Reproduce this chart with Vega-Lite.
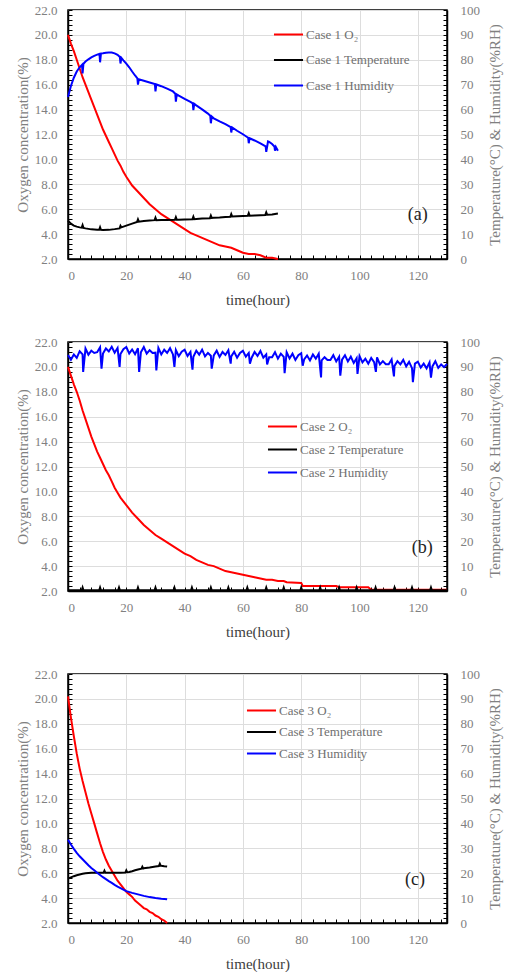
{
"$schema": "https://vega.github.io/schema/vega-lite/v6.json",
"padding": {"left": 14, "top": 3, "right": 2, "bottom": 0},
"background": "white",
"spacing": 26,
"resolve": {"scale": {"color": "independent"}, "legend": {"color": "independent"}},
"config": {
  "view": {"stroke": "black", "strokeWidth": 1.5},
  "font": "Liberation Serif",
  "axis": {"labelFont": "Liberation Serif", "labelColor": "#808080", "labelFontSize": 13, "titleFont": "Liberation Serif", "titleColor": "#808080", "titleFontWeight": "normal", "titleFontSize": 15, "domainColor": "black", "domainWidth": 1.5, "tickColor": "black", "tickWidth": 1, "tickSize": -4, "gridColor": "#dddddd", "labelOverlap": false, "tickCount": 200},
  "axisX": {"labelPadding": 14.5, "titlePadding": 10, "titleColor": "#404040"},
  "axisLeft": {"labelPadding": 15, "titlePadding": 4},
  "axisRight": {"labelPadding": 17, "titlePadding": 8},
  "legend": {"orient": "none", "symbolType": "M-1.3,0H1.3", "symbolSize": 500, "symbolStrokeWidth": 2, "labelFont": "Liberation Serif", "labelFontSize": 13, "labelColor": "#707070", "labelOffset": 5, "padding": 0},
  "text": {"font": "Liberation Serif", "fontSize": 18, "color": "#222222"}
},
"datasets": {
  "o2a": [{"t":0,"o2":20.0},{"t":1,"o2":19.3},{"t":2,"o2":18.7},{"t":3,"o2":18.0},{"t":4,"o2":17.3},{"t":5,"o2":16.6},{"t":6,"o2":16.0},{"t":7,"o2":15.4},{"t":8,"o2":14.8},{"t":9,"o2":14.2},{"t":10,"o2":13.6},{"t":11,"o2":13.0},{"t":12,"o2":12.4},{"t":13,"o2":11.9},{"t":14,"o2":11.4},{"t":15,"o2":10.9},{"t":16,"o2":10.4},{"t":17,"o2":9.9},{"t":18,"o2":9.5},{"t":19,"o2":9.0},{"t":20,"o2":8.6},{"t":22,"o2":7.9},{"t":24,"o2":7.4},{"t":26,"o2":6.9},{"t":28,"o2":6.4},{"t":30,"o2":6.0},{"t":32,"o2":5.6},{"t":34,"o2":5.3},{"t":36,"o2":5.0},{"t":38,"o2":4.7},{"t":40,"o2":4.4},{"t":42,"o2":4.1},{"t":44,"o2":3.9},{"t":46,"o2":3.7},{"t":48,"o2":3.5},{"t":50,"o2":3.3},{"t":52,"o2":3.1},{"t":54,"o2":3.0},{"t":56,"o2":2.9},{"t":58,"o2":2.7},{"t":60,"o2":2.5},{"t":62,"o2":2.4},{"t":64,"o2":2.4},{"t":66,"o2":2.3},{"t":68,"o2":2.1},{"t":70,"o2":2.1},{"t":72,"o2":2.0}],
  "tempa": [{"t":0,"v":15.4},{"t":1,"v":14.2},{"t":2,"v":13.4},{"t":3,"v":13.0},{"t":4,"v":12.7},{"t":4.7,"v":12.6},{"t":5,"v":13.6},{"t":5.3,"v":12.5},{"t":6,"v":12.3},{"t":8,"v":11.9},{"t":10,"v":11.7},{"t":10.7,"v":11.7},{"t":11,"v":12.7},{"t":11.3,"v":11.7},{"t":12,"v":11.6},{"t":14,"v":11.7},{"t":16,"v":12.0},{"t":17.7,"v":12.3},{"t":18,"v":13.3},{"t":18.3,"v":12.7},{"t":20,"v":13.4},{"t":22,"v":14.2},{"t":23.7,"v":14.9},{"t":24,"v":15.9},{"t":24.3,"v":15.0},{"t":26,"v":15.3},{"t":28,"v":15.5},{"t":29.7,"v":15.6},{"t":30,"v":16.6},{"t":30.3,"v":15.6},{"t":32,"v":15.7},{"t":34,"v":15.7},{"t":36.7,"v":15.8},{"t":37,"v":16.8},{"t":37.3,"v":15.8},{"t":38,"v":15.8},{"t":40,"v":15.9},{"t":42.7,"v":16.0},{"t":43,"v":17.0},{"t":43.3,"v":16.0},{"t":44,"v":16.1},{"t":46,"v":16.3},{"t":48.7,"v":16.4},{"t":49,"v":17.4},{"t":49.3,"v":16.5},{"t":50,"v":16.6},{"t":52,"v":16.7},{"t":54,"v":16.9},{"t":55.7,"v":17.0},{"t":56,"v":18.0},{"t":56.3,"v":17.1},{"t":58,"v":17.2},{"t":60,"v":17.3},{"t":61.7,"v":17.4},{"t":62,"v":18.4},{"t":62.3,"v":17.4},{"t":64,"v":17.5},{"t":66,"v":17.6},{"t":67.7,"v":17.7},{"t":68,"v":18.7},{"t":68.3,"v":17.8},{"t":70,"v":17.9},{"t":72,"v":18.3}],
  "huma": [{"t":0,"v":65.1},{"t":1,"v":69.5},{"t":2,"v":72.8},{"t":3,"v":75.3},{"t":4,"v":77.0},{"t":4.8,"v":78.0},{"t":5,"v":74.5},{"t":5.3,"v":78.4},{"t":6,"v":79.3},{"t":7,"v":80.2},{"t":8,"v":81.0},{"t":9,"v":81.6},{"t":10,"v":82.1},{"t":10.8,"v":82.4},{"t":11,"v":79.0},{"t":11.3,"v":82.5},{"t":12,"v":82.6},{"t":13,"v":82.8},{"t":14,"v":82.9},{"t":15,"v":82.9},{"t":16,"v":82.6},{"t":17,"v":82.0},{"t":17.8,"v":81.1},{"t":18,"v":78.5},{"t":18.3,"v":80.8},{"t":19,"v":79.8},{"t":20,"v":78.5},{"t":21,"v":77.0},{"t":22,"v":75.3},{"t":23,"v":73.7},{"t":23.8,"v":72.5},{"t":24,"v":70.0},{"t":24.3,"v":72.2},{"t":26,"v":71.6},{"t":28,"v":70.9},{"t":29.8,"v":70.3},{"t":30,"v":67.3},{"t":30.3,"v":70.1},{"t":32,"v":69.4},{"t":34,"v":68.4},{"t":36,"v":67.3},{"t":36.8,"v":66.4},{"t":37,"v":63.2},{"t":37.3,"v":66.1},{"t":38,"v":65.6},{"t":40,"v":64.3},{"t":42,"v":63.1},{"t":42.8,"v":62.5},{"t":43,"v":59.8},{"t":43.3,"v":62.3},{"t":44,"v":61.7},{"t":46,"v":60.1},{"t":48,"v":58.4},{"t":48.8,"v":57.5},{"t":49,"v":54.5},{"t":49.3,"v":57.2},{"t":50,"v":56.5},{"t":52,"v":55.3},{"t":54,"v":54.2},{"t":55.8,"v":53.0},{"t":56,"v":50.8},{"t":56.3,"v":52.8},{"t":58,"v":51.5},{"t":60,"v":50.1},{"t":61.8,"v":48.7},{"t":62,"v":46.5},{"t":62.3,"v":48.5},{"t":64,"v":47.6},{"t":66,"v":46.4},{"t":67.8,"v":45.2},{"t":68,"v":43.0},{"t":68.3,"v":45.0},{"t":68.6,"v":47.2},{"t":69,"v":47.0},{"t":70,"v":46.2},{"t":70.8,"v":45.2},{"t":71,"v":43.5},{"t":71.3,"v":45.0},{"t":72,"v":43.5}],
  "laba": [{"t":120,"o2":5.5,"label":"(a)"}],
  "o2b": [{"t":0,"o2":20.0},{"t":1,"o2":19.3},{"t":2,"o2":18.6},{"t":3,"o2":18.0},{"t":4,"o2":17.3},{"t":5,"o2":16.5},{"t":6,"o2":15.8},{"t":7,"o2":15.1},{"t":8,"o2":14.4},{"t":9,"o2":13.8},{"t":10,"o2":13.2},{"t":11,"o2":12.7},{"t":12,"o2":12.2},{"t":13,"o2":11.7},{"t":14,"o2":11.3},{"t":15,"o2":10.8},{"t":16,"o2":10.3},{"t":17,"o2":9.9},{"t":18,"o2":9.5},{"t":20,"o2":8.9},{"t":22,"o2":8.3},{"t":24,"o2":7.8},{"t":26,"o2":7.3},{"t":28,"o2":6.9},{"t":30,"o2":6.5},{"t":32,"o2":6.2},{"t":34,"o2":5.9},{"t":36,"o2":5.6},{"t":38,"o2":5.3},{"t":40,"o2":5.0},{"t":42,"o2":4.8},{"t":44,"o2":4.5},{"t":46,"o2":4.3},{"t":48,"o2":4.1},{"t":50,"o2":4.0},{"t":52,"o2":3.8},{"t":54,"o2":3.6},{"t":56,"o2":3.5},{"t":58,"o2":3.4},{"t":60,"o2":3.3},{"t":62,"o2":3.2},{"t":64,"o2":3.1},{"t":66,"o2":3.0},{"t":68,"o2":2.9},{"t":70,"o2":2.9},{"t":72,"o2":2.8},{"t":74,"o2":2.8},{"t":75,"o2":2.7},{"t":80,"o2":2.65},{"t":80.5,"o2":2.4},{"t":92,"o2":2.4},{"t":93,"o2":2.3},{"t":103,"o2":2.3},{"t":104,"o2":2.1},{"t":130,"o2":2.1}],
  "tempb": [{"t":0,"v":0.3},{"t":4.7,"v":0.3},{"t":5,"v":1.4},{"t":5.3,"v":0.3},{"t":10.7,"v":0.3},{"t":11,"v":1.4},{"t":11.3,"v":0.3},{"t":17.2,"v":0.3},{"t":17.5,"v":1.4},{"t":17.8,"v":0.3},{"t":23.7,"v":0.3},{"t":24,"v":1.4},{"t":24.3,"v":0.3},{"t":29.7,"v":0.3},{"t":30,"v":1.4},{"t":30.3,"v":0.3},{"t":36.2,"v":0.3},{"t":36.5,"v":1.4},{"t":36.8,"v":0.3},{"t":42.2,"v":0.3},{"t":42.5,"v":1.4},{"t":42.8,"v":0.3},{"t":48.7,"v":0.3},{"t":49,"v":1.4},{"t":49.3,"v":0.3},{"t":54.7,"v":0.3},{"t":55,"v":1.4},{"t":55.3,"v":0.3},{"t":61.2,"v":0.3},{"t":61.5,"v":1.4},{"t":61.8,"v":0.3},{"t":67.7,"v":0.3},{"t":68,"v":1.4},{"t":68.3,"v":0.3},{"t":73.7,"v":0.3},{"t":74,"v":1.4},{"t":74.3,"v":0.3},{"t":79.7,"v":0.3},{"t":80,"v":1.4},{"t":80.3,"v":0.3},{"t":86.2,"v":0.3},{"t":86.5,"v":1.4},{"t":86.8,"v":0.3},{"t":92.7,"v":0.3},{"t":93,"v":1.4},{"t":93.3,"v":0.3},{"t":98.7,"v":0.3},{"t":99,"v":1.4},{"t":99.3,"v":0.3},{"t":105.2,"v":0.3},{"t":105.5,"v":1.4},{"t":105.8,"v":0.3},{"t":111.7,"v":0.3},{"t":112,"v":1.4},{"t":112.3,"v":0.3},{"t":117.7,"v":0.3},{"t":118,"v":1.4},{"t":118.3,"v":0.3},{"t":124.2,"v":0.3},{"t":124.5,"v":1.4},{"t":124.8,"v":0.3},{"t":130,"v":0.3}],
  "humb": [{"t":0,"v":94.8},{"t":1,"v":92.9},{"t":2,"v":95.0},{"t":3,"v":93.6},{"t":4,"v":96.3},{"t":5,"v":95.0},{"t":5.2,"v":88.0},{"t":6,"v":97.4},{"t":7,"v":94.9},{"t":8,"v":96.5},{"t":9,"v":95.6},{"t":10,"v":95.9},{"t":11,"v":97.9},{"t":11.5,"v":89.3},{"t":12,"v":95.4},{"t":13,"v":97.4},{"t":14,"v":96.2},{"t":15,"v":98.1},{"t":16,"v":95.7},{"t":17,"v":97.6},{"t":17.7,"v":90.0},{"t":18,"v":95.2},{"t":19,"v":97.1},{"t":20,"v":98.0},{"t":21,"v":95.4},{"t":22,"v":97.0},{"t":23,"v":95.1},{"t":24,"v":97.5},{"t":24.4,"v":88.0},{"t":25,"v":95.9},{"t":26,"v":98.0},{"t":27,"v":95.3},{"t":28,"v":96.7},{"t":29,"v":95.6},{"t":30,"v":95.7},{"t":30.3,"v":88.6},{"t":31,"v":97.6},{"t":32,"v":95.0},{"t":33,"v":96.9},{"t":34,"v":95.6},{"t":35,"v":97.5},{"t":36,"v":95.0},{"t":36.5,"v":90.0},{"t":37,"v":96.8},{"t":38,"v":94.3},{"t":39,"v":96.1},{"t":40,"v":96.9},{"t":41,"v":94.4},{"t":42,"v":96.0},{"t":42.7,"v":88.9},{"t":43,"v":94.1},{"t":44,"v":96.5},{"t":45,"v":94.9},{"t":46,"v":96.9},{"t":47,"v":94.2},{"t":48,"v":95.6},{"t":49,"v":94.5},{"t":49.3,"v":89.3},{"t":50,"v":94.6},{"t":51,"v":96.5},{"t":52,"v":94.0},{"t":53,"v":96.0},{"t":54,"v":94.8},{"t":55,"v":96.7},{"t":55.8,"v":91.3},{"t":56,"v":94.2},{"t":57,"v":96.1},{"t":58,"v":93.7},{"t":59,"v":95.6},{"t":60,"v":96.5},{"t":61,"v":94.1},{"t":62,"v":95.6},{"t":62.4,"v":91.3},{"t":63,"v":93.7},{"t":64,"v":96.0},{"t":65,"v":94.4},{"t":66,"v":96.4},{"t":67,"v":93.7},{"t":68,"v":95.0},{"t":68.3,"v":91.0},{"t":69,"v":93.9},{"t":70,"v":93.9},{"t":71,"v":95.9},{"t":72,"v":93.3},{"t":73,"v":95.3},{"t":74,"v":94.0},{"t":74.3,"v":87.5},{"t":75,"v":95.9},{"t":76,"v":93.4},{"t":77,"v":95.3},{"t":78,"v":92.8},{"t":79,"v":94.7},{"t":80,"v":95.5},{"t":80.5,"v":90.5},{"t":81,"v":93.0},{"t":82,"v":94.6},{"t":83,"v":92.6},{"t":84,"v":95.0},{"t":85,"v":93.3},{"t":86,"v":95.3},{"t":86.8,"v":85.8},{"t":87,"v":92.6},{"t":88,"v":93.9},{"t":89,"v":92.8},{"t":90,"v":92.8},{"t":91,"v":94.7},{"t":92,"v":92.2},{"t":93,"v":94.1},{"t":93.4,"v":86.5},{"t":94,"v":92.9},{"t":95,"v":94.7},{"t":96,"v":92.2},{"t":97,"v":94.1},{"t":98,"v":91.6},{"t":99,"v":93.5},{"t":99.3,"v":87.2},{"t":100,"v":94.3},{"t":101,"v":91.8},{"t":102,"v":93.3},{"t":103,"v":91.3},{"t":104,"v":93.6},{"t":105,"v":91.9},{"t":105.6,"v":88.0},{"t":106,"v":93.8},{"t":107,"v":91.0},{"t":108,"v":92.3},{"t":109,"v":91.1},{"t":110,"v":91.1},{"t":111,"v":93.0},{"t":111.8,"v":86.2},{"t":112,"v":90.4},{"t":113,"v":92.3},{"t":114,"v":91.0},{"t":115,"v":92.8},{"t":116,"v":90.2},{"t":117,"v":92.0},{"t":118,"v":89.5},{"t":118.3,"v":83.9},{"t":119,"v":91.3},{"t":120,"v":92.1},{"t":121,"v":89.7},{"t":122,"v":91.3},{"t":123,"v":89.4},{"t":124,"v":91.8},{"t":124.5,"v":85.7},{"t":125,"v":90.2},{"t":126,"v":92.3},{"t":127,"v":89.6},{"t":128,"v":91.0},{"t":129,"v":89.9},{"t":130,"v":91.2}],
  "labb": [{"t":121.5,"o2":5.45,"label":"(b)"}],
  "o2c": [{"t":0,"o2":20.2},{"t":1,"o2":18.5},{"t":2,"o2":17.0},{"t":3,"o2":15.6},{"t":4,"o2":14.4},{"t":5,"o2":13.4},{"t":6,"o2":12.5},{"t":7,"o2":11.6},{"t":8,"o2":10.8},{"t":9,"o2":10.0},{"t":10,"o2":9.2},{"t":11,"o2":8.4},{"t":12,"o2":7.7},{"t":13,"o2":7.1},{"t":14,"o2":6.6},{"t":15,"o2":6.2},{"t":16,"o2":5.8},{"t":17,"o2":5.4},{"t":18,"o2":5.1},{"t":19,"o2":4.8},{"t":20,"o2":4.5},{"t":21,"o2":4.3},{"t":22,"o2":4.1},{"t":23,"o2":3.8},{"t":24,"o2":3.6},{"t":25,"o2":3.4},{"t":26,"o2":3.2},{"t":27,"o2":3.1},{"t":28,"o2":2.9},{"t":29,"o2":2.8},{"t":30,"o2":2.6},{"t":31,"o2":2.5},{"t":32,"o2":2.3},{"t":33,"o2":2.2},{"t":34,"o2":2.0}],
  "tempc": [{"t":0,"v":17.8},{"t":1,"v":18.3},{"t":2,"v":18.8},{"t":3,"v":19.2},{"t":4,"v":19.5},{"t":5,"v":19.8},{"t":6,"v":20.0},{"t":7,"v":20.1},{"t":8,"v":20.2},{"t":10,"v":20.2},{"t":12.2,"v":20.2},{"t":12.5,"v":21.0},{"t":12.8,"v":20.2},{"t":16,"v":20.2},{"t":18,"v":20.2},{"t":19.7,"v":20.3},{"t":20,"v":21.1},{"t":20.3,"v":20.4},{"t":21,"v":20.5},{"t":22,"v":20.8},{"t":23,"v":21.2},{"t":24,"v":21.5},{"t":25.2,"v":21.8},{"t":25.5,"v":22.6},{"t":25.8,"v":21.9},{"t":26,"v":22.0},{"t":28,"v":22.3},{"t":30,"v":22.7},{"t":31.2,"v":22.9},{"t":31.5,"v":23.8},{"t":31.8,"v":23.0},{"t":32,"v":23.0},{"t":33,"v":22.8},{"t":34,"v":22.7}],
  "humc": [{"t":0,"v":33.4},{"t":1,"v":31.5},{"t":2,"v":29.8},{"t":3,"v":28.2},{"t":4,"v":26.8},{"t":5,"v":25.6},{"t":6,"v":24.4},{"t":7,"v":23.2},{"t":8,"v":22.1},{"t":9,"v":21.2},{"t":10,"v":20.2},{"t":11,"v":19.3},{"t":12,"v":18.4},{"t":13,"v":17.6},{"t":14,"v":16.8},{"t":15,"v":16.1},{"t":16,"v":15.3},{"t":17,"v":14.6},{"t":18,"v":14.0},{"t":19,"v":13.4},{"t":20,"v":12.8},{"t":22,"v":12.1},{"t":24,"v":11.5},{"t":26,"v":10.9},{"t":28,"v":10.4},{"t":30,"v":10.0},{"t":32,"v":9.7},{"t":34,"v":9.5}],
  "labc": [{"t":119,"o2":5.45,"label":"(c)"}]
},
"vconcat": [
  {
    "width": 379, "height": 249,
    "layer": [
      {"layer": [
        {"data": {"name": "o2a"}, "mark": {"type": "line", "strokeWidth": 2},
         "encoding": {
           "x": {"field": "t", "type": "quantitative", "scale": {"domain": [0, 130], "nice": false},
                 "axis": {"title": "time(hour)", "tickCount": 200, "values": [0,4,8,12,16,20,24,28,32,36,40,44,48,52,56,60,64,68,72,76,80,84,88,92,96,100,104,108,112,116,120,124,128], "labelExpr": "datum.value % 20 === 0 ? format(datum.value, 'd') : ''", "gridOpacity": {"condition": {"test": "datum.value % 20 === 0", "value": 1}, "value": 0}}},
           "y": {"field": "o2", "type": "quantitative", "scale": {"domain": [2, 22], "nice": false},
                 "axis": {"title": "Oxygen concentration(%)", "tickCount": 200, "values": [2,2.4,2.8,3.2,3.6,4,4.4,4.8,5.2,5.6,6,6.4,6.8,7.2,7.6,8,8.4,8.8,9.2,9.6,10,10.4,10.8,11.2,11.6,12,12.4,12.8,13.2,13.6,14,14.4,14.8,15.2,15.6,16,16.4,16.8,17.2,17.6,18,18.4,18.8,19.2,19.6,20,20.4,20.8,21.2,21.6,22], "labelExpr": "datum.value % 2 === 0 ? format(datum.value, '.1f') : ''", "gridOpacity": {"condition": {"test": "datum.value % 2 === 0", "value": 1}, "value": 0}}},
           "color": {"datum": "Case 1 O₂", "type": "nominal",
                     "scale": {"domain": ["Case 1 O₂", "Case 1 Temperature", "Case 1 Humidity"], "range": ["#ff0000", "#000000", "#0000ff"]},
                     "legend": {"title": null, "legendX": 208, "legendY": 12, "rowPadding": 5.5}}
         }},
        {"data": {"name": "laba"}, "mark": {"type": "text"},
         "encoding": {"x": {"field": "t", "type": "quantitative"}, "y": {"field": "o2", "type": "quantitative"}, "text": {"field": "label"}}}
      ]},
      {"layer": [
        {"data": {"name": "tempa"}, "mark": {"type": "line", "strokeWidth": 2},
         "encoding": {
           "x": {"field": "t", "type": "quantitative"},
           "y": {"field": "v", "type": "quantitative", "scale": {"domain": [0, 100], "nice": false},
                 "axis": {"orient": "right", "title": "Temperature(°C) & Humidity(%RH)", "titleAngle": 270, "titleBaseline": "top", "grid": false, "tickCount": 200, "values": [0,2,4,6,8,10,12,14,16,18,20,22,24,26,28,30,32,34,36,38,40,42,44,46,48,50,52,54,56,58,60,62,64,66,68,70,72,74,76,78,80,82,84,86,88,90,92,94,96,98,100], "labelExpr": "datum.value % 10 === 0 ? format(datum.value, 'd') : ''"}},
           "color": {"datum": "Case 1 Temperature", "type": "nominal"}
         }},
        {"data": {"name": "huma"}, "mark": {"type": "line", "strokeWidth": 2},
         "encoding": {
           "x": {"field": "t", "type": "quantitative"},
           "y": {"field": "v", "type": "quantitative"},
           "color": {"datum": "Case 1 Humidity", "type": "nominal"}
         }}
      ]}
    ],
    "resolve": {"scale": {"y": "independent"}}
  },
  {
    "width": 379, "height": 249,
    "layer": [
      {"layer": [
        {"data": {"name": "o2b"}, "mark": {"type": "line", "strokeWidth": 2},
         "encoding": {
           "x": {"field": "t", "type": "quantitative", "scale": {"domain": [0, 130], "nice": false},
                 "axis": {"title": "time(hour)", "tickCount": 200, "values": [0,4,8,12,16,20,24,28,32,36,40,44,48,52,56,60,64,68,72,76,80,84,88,92,96,100,104,108,112,116,120,124,128], "labelExpr": "datum.value % 20 === 0 ? format(datum.value, 'd') : ''", "gridOpacity": {"condition": {"test": "datum.value % 20 === 0", "value": 1}, "value": 0}}},
           "y": {"field": "o2", "type": "quantitative", "scale": {"domain": [2, 22], "nice": false},
                 "axis": {"title": "Oxygen concentration(%)", "tickCount": 200, "values": [2,2.4,2.8,3.2,3.6,4,4.4,4.8,5.2,5.6,6,6.4,6.8,7.2,7.6,8,8.4,8.8,9.2,9.6,10,10.4,10.8,11.2,11.6,12,12.4,12.8,13.2,13.6,14,14.4,14.8,15.2,15.6,16,16.4,16.8,17.2,17.6,18,18.4,18.8,19.2,19.6,20,20.4,20.8,21.2,21.6,22], "labelExpr": "datum.value % 2 === 0 ? format(datum.value, '.1f') : ''", "gridOpacity": {"condition": {"test": "datum.value % 2 === 0", "value": 1}, "value": 0}}},
           "color": {"datum": "Case 2 O₂", "type": "nominal",
                     "scale": {"domain": ["Case 2 O₂", "Case 2 Temperature", "Case 2 Humidity"], "range": ["#ff0000", "#000000", "#0000ff"]},
                     "legend": {"title": null, "legendX": 202, "legendY": 72, "rowPadding": 3}}
         }},
        {"data": {"name": "labb"}, "mark": {"type": "text"},
         "encoding": {"x": {"field": "t", "type": "quantitative"}, "y": {"field": "o2", "type": "quantitative"}, "text": {"field": "label"}}}
      ]},
      {"layer": [
        {"data": {"name": "tempb"}, "mark": {"type": "line", "strokeWidth": 2},
         "encoding": {
           "x": {"field": "t", "type": "quantitative"},
           "y": {"field": "v", "type": "quantitative", "scale": {"domain": [0, 100], "nice": false},
                 "axis": {"orient": "right", "title": "Temperature(°C) & Humidity(%RH)", "titleAngle": 270, "titleBaseline": "top", "grid": false, "tickCount": 200, "values": [0,2,4,6,8,10,12,14,16,18,20,22,24,26,28,30,32,34,36,38,40,42,44,46,48,50,52,54,56,58,60,62,64,66,68,70,72,74,76,78,80,82,84,86,88,90,92,94,96,98,100], "labelExpr": "datum.value % 10 === 0 ? format(datum.value, 'd') : ''"}},
           "color": {"datum": "Case 2 Temperature", "type": "nominal"}
         }},
        {"data": {"name": "humb"}, "mark": {"type": "line", "strokeWidth": 2},
         "encoding": {
           "x": {"field": "t", "type": "quantitative"},
           "y": {"field": "v", "type": "quantitative"},
           "color": {"datum": "Case 2 Humidity", "type": "nominal"}
         }}
      ]}
    ],
    "resolve": {"scale": {"y": "independent"}}
  },
  {
    "width": 379, "height": 249,
    "layer": [
      {"layer": [
        {"data": {"name": "o2c"}, "mark": {"type": "line", "strokeWidth": 2},
         "encoding": {
           "x": {"field": "t", "type": "quantitative", "scale": {"domain": [0, 130], "nice": false},
                 "axis": {"title": "time(hour)", "tickCount": 200, "values": [0,4,8,12,16,20,24,28,32,36,40,44,48,52,56,60,64,68,72,76,80,84,88,92,96,100,104,108,112,116,120,124,128], "labelExpr": "datum.value % 20 === 0 ? format(datum.value, 'd') : ''", "gridOpacity": {"condition": {"test": "datum.value % 20 === 0", "value": 1}, "value": 0}}},
           "y": {"field": "o2", "type": "quantitative", "scale": {"domain": [2, 22], "nice": false},
                 "axis": {"title": "Oxygen concentration(%)", "tickCount": 200, "values": [2,2.4,2.8,3.2,3.6,4,4.4,4.8,5.2,5.6,6,6.4,6.8,7.2,7.6,8,8.4,8.8,9.2,9.6,10,10.4,10.8,11.2,11.6,12,12.4,12.8,13.2,13.6,14,14.4,14.8,15.2,15.6,16,16.4,16.8,17.2,17.6,18,18.4,18.8,19.2,19.6,20,20.4,20.8,21.2,21.6,22], "labelExpr": "datum.value % 2 === 0 ? format(datum.value, '.1f') : ''", "gridOpacity": {"condition": {"test": "datum.value % 2 === 0", "value": 1}, "value": 0}}},
           "color": {"datum": "Case 3 O₂", "type": "nominal",
                     "scale": {"domain": ["Case 3 O₂", "Case 3 Temperature", "Case 3 Humidity"], "range": ["#ff0000", "#000000", "#0000ff"]},
                     "legend": {"title": null, "legendX": 181, "legendY": 24, "rowPadding": 1.5}}
         }},
        {"data": {"name": "labc"}, "mark": {"type": "text"},
         "encoding": {"x": {"field": "t", "type": "quantitative"}, "y": {"field": "o2", "type": "quantitative"}, "text": {"field": "label"}}}
      ]},
      {"layer": [
        {"data": {"name": "tempc"}, "mark": {"type": "line", "strokeWidth": 2},
         "encoding": {
           "x": {"field": "t", "type": "quantitative"},
           "y": {"field": "v", "type": "quantitative", "scale": {"domain": [0, 100], "nice": false},
                 "axis": {"orient": "right", "title": "Temperature(°C) & Humidity(%RH)", "titleAngle": 270, "titleBaseline": "top", "grid": false, "tickCount": 200, "values": [0,2,4,6,8,10,12,14,16,18,20,22,24,26,28,30,32,34,36,38,40,42,44,46,48,50,52,54,56,58,60,62,64,66,68,70,72,74,76,78,80,82,84,86,88,90,92,94,96,98,100], "labelExpr": "datum.value % 10 === 0 ? format(datum.value, 'd') : ''"}},
           "color": {"datum": "Case 3 Temperature", "type": "nominal"}
         }},
        {"data": {"name": "humc"}, "mark": {"type": "line", "strokeWidth": 2},
         "encoding": {
           "x": {"field": "t", "type": "quantitative"},
           "y": {"field": "v", "type": "quantitative"},
           "color": {"datum": "Case 3 Humidity", "type": "nominal"}
         }}
      ]}
    ],
    "resolve": {"scale": {"y": "independent"}}
  }
]
}
